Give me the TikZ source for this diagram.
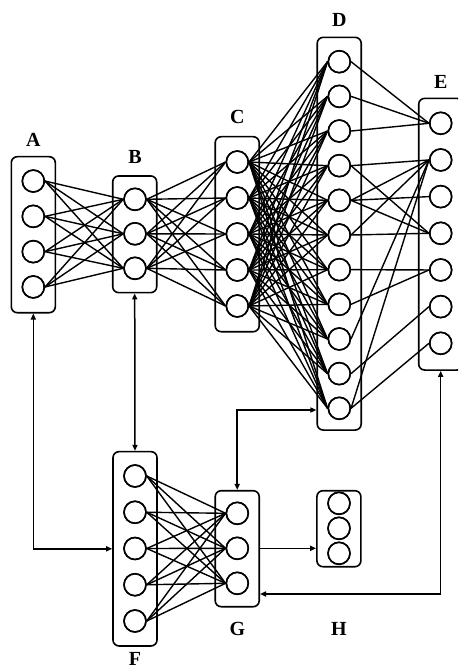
\documentclass[tikz,border=0pt]{standalone}
\usepackage{fontspec}
\setmainfont{Liberation Serif}
\usetikzlibrary{arrows.meta,calc}

\tikzset{
  layerbox/.style={draw, line width=1.6pt, rounded corners=6pt, minimum width=44pt, inner sep=0pt},
  neuron/.style={draw, circle, line width=1.5pt, minimum size=22pt, inner sep=0pt, fill=white},
  edge/.style={line width=1.4pt},
  link/.style={line width=1.5pt, {Triangle[length=6pt,width=5pt]}-{Triangle[length=6pt,width=5pt]}},
  onelink/.style={line width=1.5pt, -{Triangle[length=6pt,width=5pt]}},
  layername/.style={font=\fontsize{20}{22}\selectfont\bfseries, inner sep=0pt}
}

\begin{document}
\begin{tikzpicture}[x=1pt,y=-1pt]
\useasboundingbox (0,0) rectangle (458,671);
\clip (0,0) rectangle (458,671);

% layer frames
\node[layerbox, minimum height=156pt]   (Abox) at (33.3,234.7) {};
\node[layerbox, minimum height=116.7pt] (Bbox) at (134.7,234.3) {};
\node[layerbox, minimum height=195pt]   (Cbox) at (237.2,234.2) {};
\node[layerbox, minimum height=392.7pt] (Dbox) at (339.2,233.7) {};
\node[layerbox, minimum height=271.7pt] (Ebox) at (440.7,234.2) {};
\node[layerbox, minimum height=194.3pt] (Fbox) at (135,548.8) {};
\node[layerbox, minimum height=116pt]   (Gbox) at (237.2,548.7) {};
\node[layerbox, minimum height=76pt]    (Hbox) at (338.9,528.7) {};

% neurons
\foreach \i in {1,...,4} \node[neuron] (a\i) at (33.3, {234-35.3*(2.5-\i)}) {};
\foreach \i in {1,...,3} \node[neuron] (b\i) at (135, {233.8-34.5*(2-\i)}) {};
\foreach \i in {1,...,5} \node[neuron] (c\i) at (237.3, {234-36*(3-\i)}) {};
\foreach \i in {1,...,11} \node[neuron] (d\i) at (339.3, {235-34.66*(6-\i)}) {};
\foreach \i in {1,...,7} \node[neuron] (e\i) at (440.7, {233.3-36.67*(4-\i)}) {};
\foreach \i in {1,...,5} \node[neuron] (f\i) at (135, {548.5-36.25*(3-\i)}) {};
\foreach \i in {1,...,3} \node[neuron] (g\i) at (237.3, {548.3-35*(2-\i)}) {};
\foreach \i in {1,...,3} \node[neuron] (h\i) at (339, {528.3-25*(2-\i)}) {};

% fully connected weights
\foreach \i in {1,...,4} \foreach \j in {1,...,3} \draw[edge] (a\i.east) -- (b\j.west);
\foreach \i in {1,...,3} \foreach \j in {1,...,5} \draw[edge] (b\i.east) -- (c\j.west);
\foreach \i in {1,...,5} \foreach \j in {1,...,11} \draw[edge] (c\i.east) -- (d\j.west);
\foreach \i in {1,...,5} \foreach \j in {1,...,3} \draw[edge] (f\i.east) -- (g\j.west);

% sparse weights between D and E
\foreach \i/\j in {1/1,2/1,3/1,4/2,4/4,5/2,5/3,5/4,6/2,6/4,7/5,8/5,9/2,10/6,11/2,11/7}
  \draw[edge] (d\i.east) -- (e\j.west);

% redraw neurons on top of the weights
\foreach \n in {a1,a2,a3,a4,b1,b2,b3,c1,c2,c3,c4,c5,d1,d2,d3,d4,d5,d6,d7,d8,d9,d10,d11,
                e1,e2,e3,e4,e5,e6,e7,f1,f2,f3,f4,f5,g1,g2,g3,h1,h2,h3}
  \draw[line width=1.5pt] (\n) circle (11pt);

% links between the blocks
\draw[link] (Abox.south) |- (Fbox.west);
\draw[link] (Bbox.south) -- (Fbox.north);
\draw[link] (Dbox.west |- 0,410) -| (Gbox.north);
\draw[onelink] (Gbox.east |- g2) -- (Hbox.west |- g2);
\draw[link] (Ebox.south) |- ($(Gbox.east)+(0,45.3)$);

% block names
\node[layername] (lA) at (33.3,140) {A};
\node[layername] (lB) at (135,157) {B};
\node[layername] (lC) at (237.3,117) {C};
\node[layername] (lD) at (339.3,19.5) {D};
\node[layername] (lE) at (440.7,82) {E};
\node[layername] (lF) at (135,659) {F};
\node[layername] (lG) at (237.3,629) {G};
\node[layername] (lH) at (339,629) {H};
\end{tikzpicture}
\end{document}
